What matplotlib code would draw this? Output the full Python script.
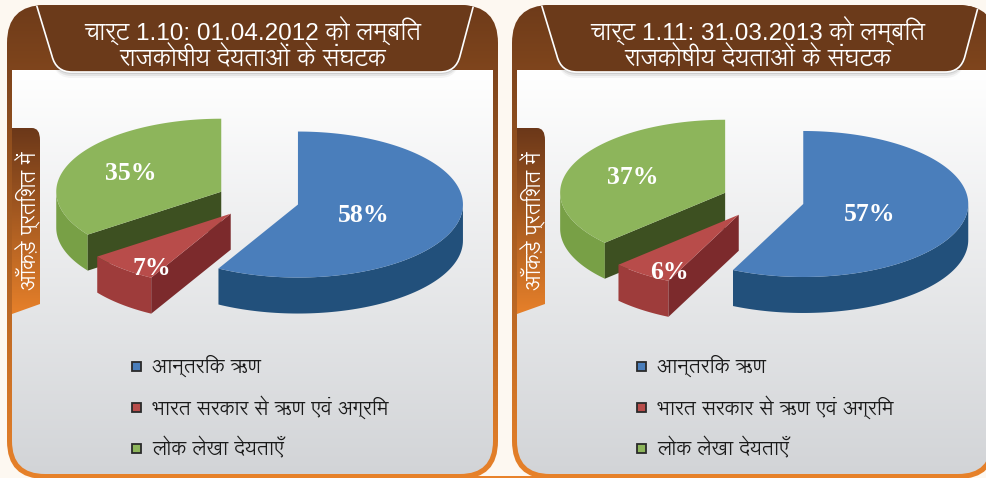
import numpy as np
import matplotlib
matplotlib.use("Agg")
import matplotlib.pyplot as plt
from matplotlib.patches import Polygon, FancyBboxPatch, PathPatch, Rectangle
from matplotlib.path import Path
from matplotlib import font_manager
from matplotlib.ft2font import FT2Font
from matplotlib.colors import to_rgb

# ---- data ----
titles = ["चार्ट 1.10: 01.04.2012 को लम्बित", "चार्ट 1.11: 31.03.2013 को लम्बित"]
subtitle = "राजकोषीय देयताओं के संघटक"
categories = ["आन्तरिक ऋण", "भारत सरकार से ऋण एवं अग्रिम", "लोक लेखा देयताएँ"]
values_2012 = [58, 7, 35]
values_2013 = [57, 6, 37]
axis_note = "आँकड़े प्रतिशत में"

top_colors = ["#4a7ebb", "#b84c4a", "#8db55b"]
wall_colors = ["#22507b", "#9e3c3b", "#78a046"]
cut_colors = ["#1d4468", "#7c2a2c", "#3d5021"]
label_r = [0.4, 0.78, 0.6]
label_shift = [(2, 4), (6, 12), (-2, 2)]

# pick a font with devanagari glyphs (Lohit looks closest)
deva = []
for f in font_manager.fontManager.ttflist:
    try:
        if 0x0915 in FT2Font(f.fname).get_charmap():
            deva.append(f.name)
    except Exception:
        pass
deva = sorted(set(deva))
hindi = deva[:1]
for want in ["Lohit Devanagari", "Noto Sans Devanagari", "Mukta"]:
    if want in deva:
        hindi = [want]
        break
plt.rcParams['font.family'] = hindi + ["DejaVu Sans"]
mixed = ["Liberation Sans"] + hindi

fig = plt.figure(figsize=(9.87, 4.78), dpi=100)
fig.patch.set_facecolor("#fdf8f1")
ax = fig.add_axes([0, 0, 1, 1])
ax.axis("off")


def grad(patch, c1, c2, x0, x1, y0, y1, z):
    t = np.linspace(0, 1, 256)[:, None, None]
    img = np.array(to_rgb(c1)) * (1 - t) + np.array(to_rgb(c2)) * t
    im = ax.imshow(img, extent=(x0, x1, y1, y0), aspect="auto", zorder=z,
                   interpolation="bilinear")
    im.set_clip_path(patch)


def draw_pie(vals, c0x, c0y, rx=165, ry=73, d=36, e=0.25):
    tot = float(sum(vals))
    start = 0
    sl = []
    for i, v in enumerate(vals):
        a1, a2 = start, start + 360 * v / tot
        start = a2
        mid = np.radians((a1 + a2) / 2)
        cx = c0x + e * rx * np.sin(mid)
        cy = c0y - e * ry * np.cos(mid)
        sl.append((cy, i, a1, a2, cx, mid))
    for cy, i, a1, a2, cx, mid in sorted(sl):
        # outer wall (front half only)
        lo, hi = max(a1, 90), min(a2, 270)
        if hi > lo:
            tw = np.radians(np.linspace(lo, hi, 80))
            wx = cx + rx * np.sin(tw)
            wy = cy - ry * np.cos(tw)
            pts = np.concatenate([np.c_[wx, wy], np.c_[wx[::-1], wy[::-1] + d]])
            ax.add_patch(Polygon(pts, fc=wall_colors[i], ec="none", zorder=5))
        # cut faces
        for ang, phi in ((a1, a1 - 90), (a2, a2 + 90)):
            if np.cos(np.radians(phi)) < -1e-6:
                ex = cx + rx * np.sin(np.radians(ang))
                ey = cy - ry * np.cos(np.radians(ang))
                q = [(cx, cy), (ex, ey), (ex, ey + d), (cx, cy + d)]
                ax.add_patch(Polygon(q, fc=cut_colors[i], ec="none", zorder=5))
        th = np.radians(np.linspace(a1, a2, 150))
        tx = cx + rx * np.sin(th)
        ty = cy - ry * np.cos(th)
        top = np.concatenate([[[cx, cy]], np.c_[tx, ty]])
        ax.add_patch(Polygon(top, fc=top_colors[i], ec="none", zorder=6))
        lx = cx + label_r[i] * rx * np.sin(mid) + label_shift[i][0]
        ly = cy - label_r[i] * ry * np.cos(mid) + label_shift[i][1]
        ax.text(lx, ly, "%d%%" % vals[i], color="white", fontsize=18.5,
                fontweight="bold", family="Liberation Serif",
                ha="center", va="center", zorder=7)


def panel(ox, x1, vals, title):
    outer = FancyBboxPatch((ox + 7, 5), x1 - ox - 7, 474,
                           boxstyle="round,pad=0,rounding_size=38",
                           fc="none", ec="none")
    ax.add_patch(outer)
    grad(outer, "#6e3b1a", "#e8822a", ox + 5, x1 + 2, 3, 481, 1)
    inner = FancyBboxPatch((ox + 12, 10), x1 - ox - 17, 464,
                           boxstyle="round,pad=0,rounding_size=33",
                           fc="none", ec="none")
    ax.add_patch(inner)
    grad(inner, "#ffffff", "#d2d4d7", ox + 10, x1, 70, 476, 2)

    # title banner
    v = [(ox + 35, 0), (ox + 52, 56), (ox + 56, 72), (ox + 72, 72),
         (ox + 440, 72), (ox + 456, 72), (ox + 460, 56), (ox + 475, 0), (ox + 35, 0)]
    codes = [Path.MOVETO, Path.LINETO, Path.CURVE3, Path.CURVE3,
             Path.LINETO, Path.CURVE3, Path.CURVE3, Path.LINETO, Path.CLOSEPOLY]
    for k, a in ((6, 0.06), (4, 0.1), (2, 0.15)):
        sh = PathPatch(Path([(x, y + k) for x, y in v], codes), fc="#555555",
                       ec="none", alpha=a, zorder=3)
        ax.add_patch(sh)
        sh.set_clip_path(inner)
    ban = PathPatch(Path(v, codes), fc="#6b3a1a", ec="white", lw=1.2, zorder=4)
    ax.add_patch(ban)
    ban.set_clip_path(outer)
    ax.text(ox + 253, 30, title, color="white", fontsize=17.5, ha="center",
            va="center", zorder=8, family=mixed)
    ax.text(ox + 253, 58, subtitle, color="white", fontsize=17.5, ha="center",
            va="center", zorder=8)

    # side tab
    tv = [(ox + 12, 128), (ox + 32, 128), (ox + 40, 128), (ox + 40, 140),
          (ox + 40, 304), (ox + 12, 314), (ox + 12, 128)]
    tc = [Path.MOVETO, Path.LINETO, Path.CURVE3, Path.CURVE3,
          Path.LINETO, Path.LINETO, Path.CLOSEPOLY]
    tab = PathPatch(Path(tv, tc), fc="none", ec="none", zorder=4)
    ax.add_patch(tab)
    grad(tab, "#6a3719", "#e8812a", ox + 10, ox + 42, 126, 316, 4)
    ax.text(ox + 27, 221, axis_note, color="white", fontsize=15, rotation=90,
            ha="center", va="center", zorder=8)

    draw_pie(vals, ox + 258, 200)

    # legend
    for j, cat in enumerate(categories):
        y = 366 + j * 41
        ax.add_patch(Rectangle((ox + 132, y - 4.5), 9, 9, fc=top_colors[j],
                               ec="#2a2a2a", lw=1.3, zorder=8))
        ax.text(ox + 152, y, cat, color="#1a1a1a", fontsize=14.5, ha="left",
                va="center", zorder=8)


panel(0, 498, values_2012, titles[0])
panel(505, 996, values_2013, titles[1])
ax.add_patch(Rectangle((440, 475.5), 120, 4, fc="#e8822a", ec="none", zorder=0.5))

ax.set_xlim(0, 987)
ax.set_ylim(478, 0)
fig.savefig("out.png", dpi=100, facecolor=fig.get_facecolor())
